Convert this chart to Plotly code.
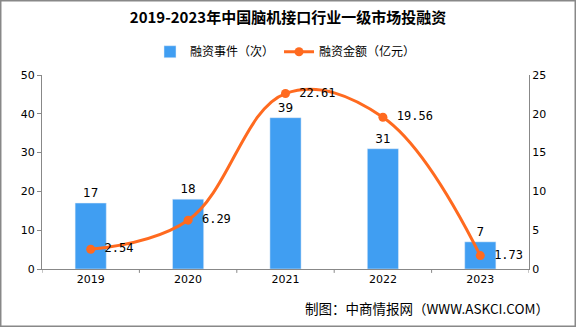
import plotly.graph_objects as go

years = ["2019", "2020", "2021", "2022", "2023"]
events = [17, 18, 39, 31, 7]
amounts = [2.54, 6.29, 22.61, 19.56, 1.73]
left_ticks = [0, 10, 20, 30, 40, 50]
right_ticks = [0, 5, 10, 15, 20, 25]

FONT = "Noto Sans CJK SC"
BAR_C = "#409EF2"
LINE_C = "#FF6A1F"

fig = go.Figure()
fig.add_trace(go.Bar(
    x=years, y=events, name="融资事件（次）", marker_color=BAR_C,
    width=0.32, text=[str(v) for v in events], textposition="outside",
    textfont=dict(size=12, color="#000", family="DejaVu Sans"), cliponaxis=False,
))
fig.add_trace(go.Scatter(
    x=years, y=amounts, name="融资金额（亿元）", yaxis="y2",
    mode="lines+markers+text", line=dict(color=LINE_C, width=3, shape="spline", smoothing=1.1),
    marker=dict(size=9, color=LINE_C),
    text=[f" {v:.2f}" for v in amounts], textposition="middle right",
    textfont=dict(size=12, color="#000", family="DejaVu Sans Mono"), cliponaxis=False,
))

fig.update_layout(
    width=576, height=327,
    margin=dict(l=42, r=47, t=75, b=58),
    paper_bgcolor="white", plot_bgcolor="white",
    font=dict(family=FONT, size=12, color="#000"),
    title=dict(text="<b>2019-2023年中国脑机接口行业一级市场投融资</b>", x=0.5, xanchor="center",
               y=0.945, yanchor="middle", font=dict(size=15, family=FONT, color="#000")),
    legend=dict(orientation="h", x=0.5, xanchor="center", y=1.12, yanchor="middle",
                font=dict(size=12, family=FONT), bgcolor="rgba(0,0,0,0)", itemwidth=30),
    bargap=0.68,
    xaxis=dict(showline=True, linecolor="#888", linewidth=1, ticks="", showgrid=False,
               tickfont=dict(size=11, family="DejaVu Sans"), range=[-0.5, 4.5]),
    yaxis=dict(range=[0, 50], tickvals=left_ticks, showline=True, linecolor="#888", linewidth=1,
               ticks="outside", ticklen=4, tickcolor="#888", showgrid=False, zeroline=False,
               tickfont=dict(size=11, family="DejaVu Sans")),
    yaxis2=dict(range=[0, 25], tickvals=right_ticks, overlaying="y", side="right",
                showline=True, linecolor="#888", linewidth=1, ticks="", showgrid=False, zeroline=False,
                tickfont=dict(size=11, family="DejaVu Sans")),
    showlegend=True,
)

# category boundary tick marks on x axis
for i in range(6):
    fig.add_shape(type="line", xref="x", yref="paper", x0=i - 0.5, x1=i - 0.5, y0=0, y1=-0.02,
                  line=dict(color="#888", width=1))

# outer frame
fig.add_shape(type="rect", xref="paper", yref="paper",
              x0=-42/487 + 0.001, x1=1 + 47/487 - 0.001, y0=-58/194 + 0.003, y1=1 + 75/194 - 0.003,
              line=dict(color="#888", width=2), fillcolor="rgba(0,0,0,0)", layer="below")

fig.add_annotation(text="制图：中商情报网（WWW.ASKCI.COM）", xref="paper", yref="paper",
                   x=1.045, y=-0.2, xanchor="right", yanchor="middle", showarrow=False,
                   font=dict(size=13.5, family=FONT, color="#000"))

fig.write_html("out.html")
